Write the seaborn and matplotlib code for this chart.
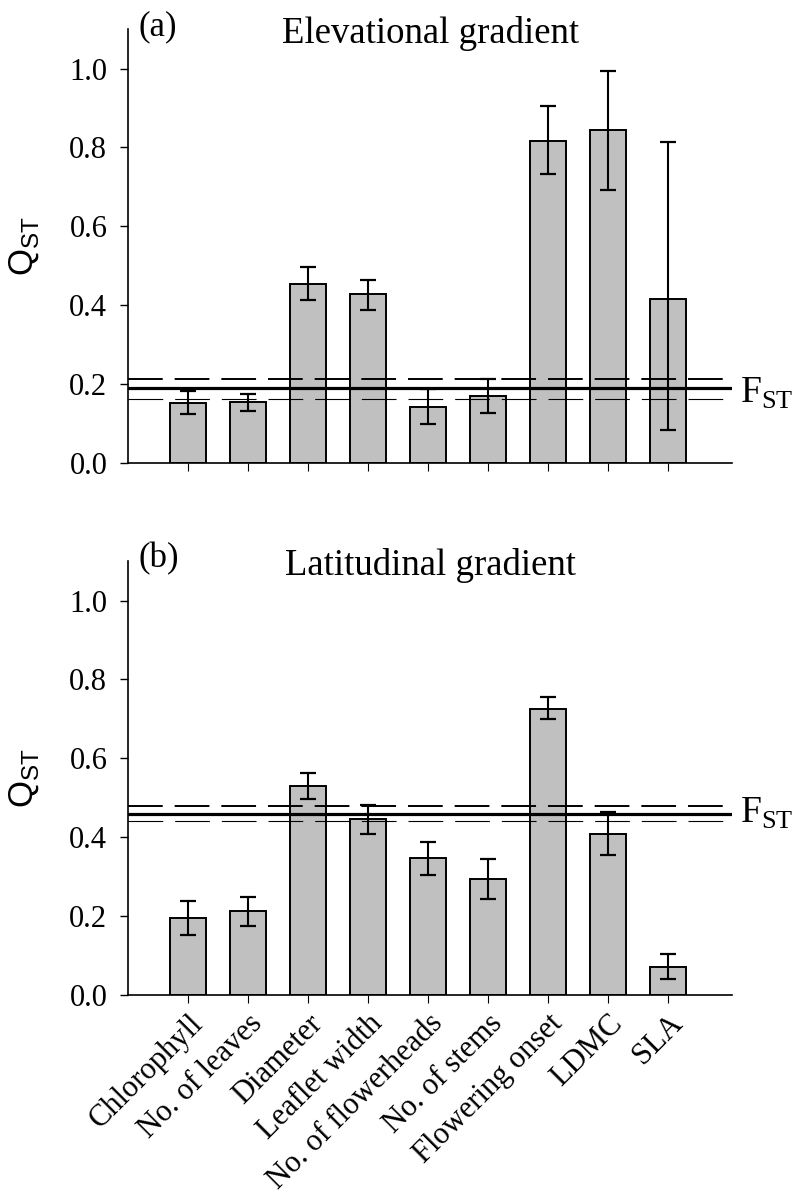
import matplotlib
matplotlib.use("Agg")
import matplotlib.pyplot as plt
import seaborn as sns
import numpy as np
import pandas as pd

# ---------------- data ----------------
traits = ["Chlorophyll", "No. of leaves", "Diameter", "Leaflet width",
          "No. of flowerheads", "No. of stems", "Flowering onset", "LDMC", "SLA"]

elev_qst = [0.153, 0.155, 0.455, 0.429, 0.142, 0.171, 0.816, 0.845, 0.417]
elev_lo  = [0.123, 0.133, 0.412, 0.389, 0.100, 0.128, 0.733, 0.691, 0.084]
elev_hi  = [0.183, 0.174, 0.496, 0.463, 0.187, 0.212, 0.906, 0.994, 0.813]
elev_fst = [0.163, 0.189, 0.214]   # lower CI, mean, upper CI

lat_qst = [0.194, 0.212, 0.530, 0.446, 0.348, 0.295, 0.726, 0.407, 0.070]
lat_lo  = [0.151, 0.174, 0.496, 0.407, 0.305, 0.244, 0.700, 0.356, 0.040]
lat_hi  = [0.239, 0.249, 0.562, 0.481, 0.389, 0.345, 0.756, 0.464, 0.103]
lat_fst = [0.441, 0.460, 0.478]

yticks = [0.0, 0.2, 0.4, 0.6, 0.8, 1.0]

panels = [("(a)", "Elevational gradient", elev_qst, elev_lo, elev_hi, elev_fst),
          ("(b)", "Latitudinal gradient", lat_qst, lat_lo, lat_hi, lat_fst)]
fst_label_drop = [0.037, 0.022]

# ---------------- style ----------------
sns.set_theme(style="white")
plt.rcParams["font.family"] = ["Liberation Serif", "DejaVu Serif"]
plt.rcParams["mathtext.fontset"] = "custom"
plt.rcParams["mathtext.rm"] = "Liberation Serif"
plt.rcParams["mathtext.sf"] = "Liberation Sans"
plt.rcParams["lines.scale_dashes"] = False
for k in ["text.color", "axes.labelcolor", "xtick.color", "ytick.color", "axes.edgecolor"]:
    plt.rcParams[k] = "black"

fig = plt.figure(figsize=(8.01, 12.02), dpi=100)
axes = [fig.add_axes([0.160, 0.6148, 0.754, 0.361]),
        fig.add_axes([0.160, 0.1722, 0.754, 0.361])]

for i, (ax, (tag, title, q, lo, hi, fst)) in enumerate(zip(axes, panels)):
    df = pd.DataFrame({"trait": traits, "qst": q})
    sns.barplot(data=df, x="trait", y="qst", ax=ax, color="#c0c0c0",
                edgecolor="black", linewidth=1.4, width=0.6, saturation=1,
                errorbar=None, zorder=1)
    q_arr = np.array(q)
    yerr = np.vstack([q_arr - np.array(lo), np.array(hi) - q_arr])
    ax.errorbar(np.arange(len(traits)), q_arr, yerr=yerr, fmt="none",
                ecolor="black", elinewidth=1.5, capsize=6, capthick=1.6, zorder=4)
    # FST mean and confidence limits
    ax.axhline(fst[2], color="black", lw=1.4, dashes=(25, 8.6), zorder=3)
    ax.axhline(fst[1], color="black", lw=2.3, zorder=3)
    ax.axhline(fst[0], color="black", lw=0.8, dashes=(25, 8.6), zorder=3)
    ax.text(1.013, fst[1] - fst_label_drop[i], r"$\mathrm{F}_{\mathrm{ST}}$",
            transform=ax.get_yaxis_transform(),
            fontsize=27, ha="left", va="baseline", clip_on=False)

    ax.set_xlim(-1.0, 9.07)
    ax.set_ylim(0, 1.1)
    ax.set_yticks(yticks)
    ax.set_yticklabels([f"{v:.1f}" for v in yticks])
    ax.tick_params(axis="y", direction="out", length=6, width=1.0, pad=9,
                   labelsize=22, left=True)
    ax.tick_params(axis="x", direction="out", length=6, width=0.8, pad=4,
                   labelsize=22, bottom=True)
    for s in ["top", "right"]:
        ax.spines[s].set_visible(False)
    for s in ["left", "bottom"]:
        ax.spines[s].set_linewidth(1.2)
        ax.spines[s].set_color("black")
    ax.set_xlabel("")
    ax.set_ylabel(r"$\mathsf{Q}_{\mathsf{ST}}$", fontsize=25)
    ax.yaxis.set_label_coords(-0.145, 0.5)

    ax.text(0.017, 0.986, tag, transform=ax.transAxes, fontsize=25,
            ha="left", va="baseline")
    ax.text(0.5, 0.968, title, transform=ax.transAxes, fontsize=26.5,
            ha="center", va="baseline")

    ax.set_xticks(np.arange(len(traits)))
    if i == 0:
        ax.set_xticklabels([])
    else:
        ax.set_xticklabels(traits, rotation=45, ha="right", va="top",
                           rotation_mode="anchor")

fig.savefig("out.png", dpi=100)
